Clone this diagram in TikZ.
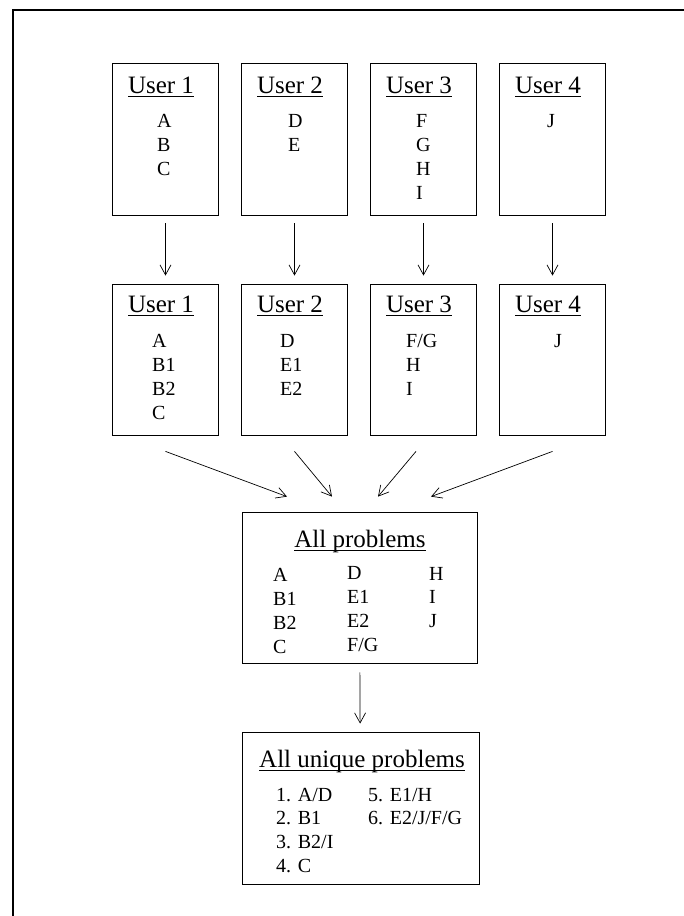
\documentclass[tikz,border=0pt]{standalone}
\usepackage{fontspec}
\setmainfont{Liberation Serif}
\usetikzlibrary{arrows.meta, calc}

\newcommand{\ulhead}[1]{\setbox0\hbox{#1}\leavevmode\rlap{\rule[-4pt]{\wd0}{0.9pt}}\box0}

\begin{document}
\begin{tikzpicture}[
    x=1pt, y=-1pt,
    box/.style={draw, line width=0.8pt, inner sep=0pt, minimum width=106pt, minimum height=152pt},
    head/.style={anchor=base, inner sep=0pt, font=\fontsize{25}{30}\selectfont},
    item/.style={anchor=base west, inner sep=0pt, font=\fontsize{20}{24}\selectfont},
    arr/.style={-{Straight Barb[length=10pt, width=11pt]}, line width=0.7pt},
]
\useasboundingbox (0,0) rectangle (683,916);
\draw[line width=2.4pt] (13,920) -- (13,10) -- (690,10);

% users, as reported and after splitting
\foreach \k in {1,...,4} {
  \node[box] (raw\k) at ({165.5+129*(\k-1)},139) {};
  \node[head] (rawh\k) at ({161+129*(\k-1)},93) {\ulhead{User \k}};
  \node[box, minimum height=151pt] (ref\k) at ({165.5+129*(\k-1)},359.5) {};
  \node[head] (refh\k) at ({161+129*(\k-1)},312) {\ulhead{User \k}};
  \draw[arr, shorten <=8pt, shorten >=8pt] (raw\k) -- (ref\k);
}

\foreach \t [count=\i] in {A,B,C}
  \node[item] (raw1-\i) at (157,{127+24*(\i-1)}) {\t};
\foreach \t [count=\i] in {D,E}
  \node[item] (raw2-\i) at (288,{127+24*(\i-1)}) {\t};
\foreach \t [count=\i] in {F,G,H,I}
  \node[item] (raw3-\i) at (416,{127+24*(\i-1)}) {\t};
\node[item] (raw4-1) at (547,127) {J};

\foreach \t [count=\i] in {A,B1,B2,C}
  \node[item] (ref1-\i) at (152,{347+24.2*(\i-1)}) {\t};
\foreach \t [count=\i] in {D,E1,E2}
  \node[item] (ref2-\i) at (280,{347+24.2*(\i-1)}) {\t};
\foreach \t [count=\i] in {F/G,H,I}
  \node[item] (ref3-\i) at (406,{347+24.2*(\i-1)}) {\t};
\node[item] (ref4-1) at (554,347) {J};

% all problems
\node[box, minimum width=235pt, minimum height=151pt] (all) at (359.5,587.5) {};
\node[head] (allh) at (360,547) {\ulhead{All problems}};
\foreach \t [count=\i] in {A,B1,B2,C}
  \node[item] (all1-\i) at (273,{581+24*(\i-1)}) {\t};
\foreach \t [count=\i] in {D,E1,E2,F/G}
  \node[item] (all2-\i) at (347,{579+24.3*(\i-1)}) {\t};
\foreach \t [count=\i] in {H,I,J}
  \node[item] (all3-\i) at (429,{580+23.7*(\i-1)}) {\t};

\draw[arr] ($(ref1.south)+(0,16)$) -- ($(all.north)+(-72.5,-15)$);
\draw[arr] ($(ref2.south)+(0,16)$) -- ($(all.north)+(-27.5,-15)$);
\draw[arr] ($(ref3.south)+(-7.5,16)$) -- ($(all.north)+(18.5,-15)$);
\draw[arr] ($(ref4.south)+(0,16)$) -- ($(all.north)+(71.5,-15)$);

% unique problems
\node[box, minimum width=237pt] (uniq) at (360.5,808) {};
\node[head] (uniqh) at (362,767) {\ulhead{All unique problems}};
\foreach \t [count=\i] in {1. A/D,2. B1,3. B2/I,4. C}
  \node[item] (uniq1-\i) at (276,{801+23.8*(\i-1)}) {\t};
\foreach \t [count=\i] in {5. E1/H,6. E2/J/F/G}
  \node[item] (uniq2-\i) at (368,{801+23.8*(\i-1)}) {\t};

\draw[arr, shorten <=9pt, shorten >=8pt] (all) -- (uniq);
\end{tikzpicture}
\end{document}
